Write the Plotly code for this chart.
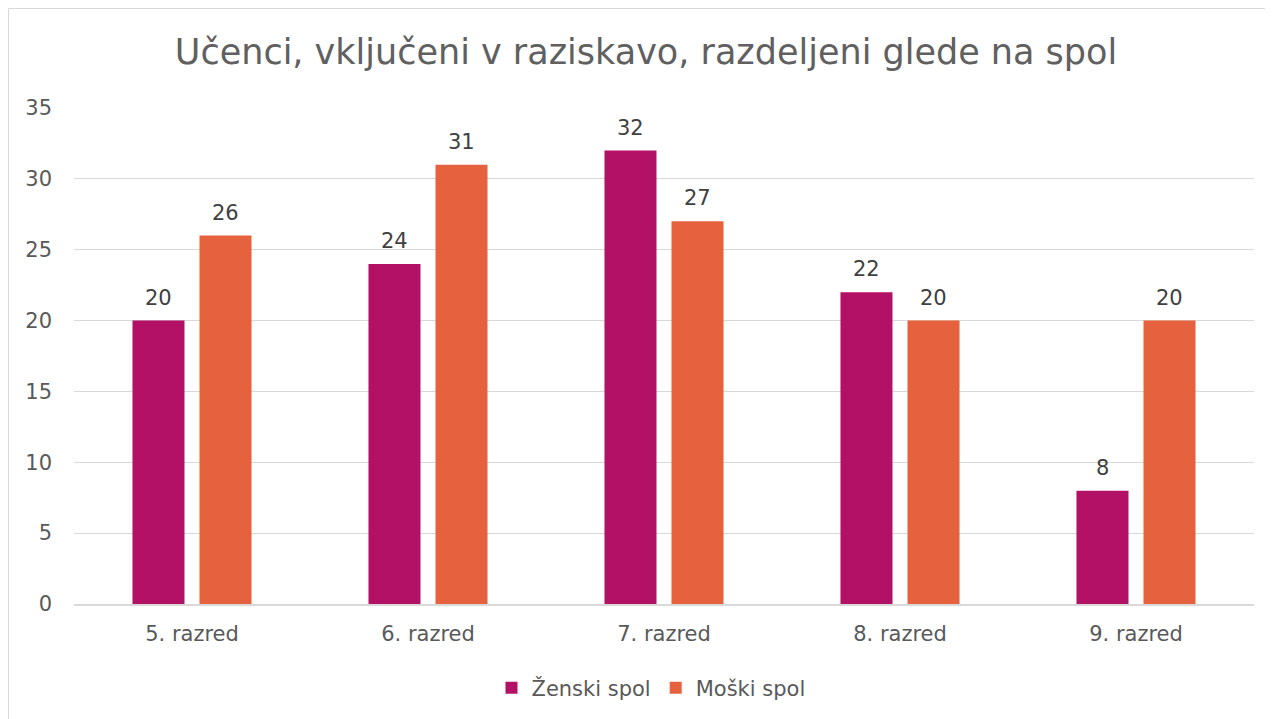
import plotly.graph_objects as go

categories = ["5. razred", "6. razred", "7. razred", "8. razred", "9. razred"]
zenski = [20, 24, 32, 22, 8]
moski = [26, 31, 27, 20, 20]
series_names = ["Ženski spol", "Moški spol"]
colors = ["#B31166", "#E6613E"]
y_ticks = [0, 5, 10, 15, 20, 25, 30, 35]

FONT = "DejaVu Sans"
GRAY = "#595959"

W, H = 1273, 719
OFF = 8  # page body offset
L, R, T, B = 74 - OFF, 1273 - 1254 + OFF, 108 - OFF, 719 - 604 + OFF
pw, ph = W - L - R, H - T - B

def px(x):
    return (x - L) / pw

def py(y):
    return (H - B - y) / ph

fig = go.Figure()
bargap, bargroupgap = 0.432, 0.224
slot = (pw / len(categories)) * (1 - bargap) / 2
shifts = [-slot / 2, slot / 2]
annotations = []
for name, vals, col, sh in zip(series_names, [zenski, moski], colors, shifts):
    fig.add_trace(go.Bar(
        x=categories, y=vals, name=name, marker_color=col,
        marker_line_width=0,
    ))
    for c, v in zip(categories, vals):
        annotations.append(dict(
            x=c, y=v, xref="x", yref="y", text=str(v), showarrow=False,
            xshift=sh, yanchor="bottom", yshift=9,
            font=dict(family=FONT, size=21, color="#404040"),
        ))

fig.add_shape(type="rect", xref="paper", yref="paper",
              x0=px(0.5), x1=px(1300), y0=py(740), y1=py(0.5),
              line=dict(color="#D9D9D9", width=1), fillcolor="rgba(0,0,0,0)",
              layer="below")

fig.update_layout(
    width=W, height=H,
    margin=dict(l=L, r=R, t=T, b=B),
    paper_bgcolor="white", plot_bgcolor="white",
    title=dict(text="Učenci, vključeni v raziskavo, razdeljeni glede na spol",
               x=(646 - OFF) / W, xref="container", xanchor="center",
               y=1 - (52 - OFF) / H, yanchor="middle",
               font=dict(family=FONT, size=35, color="#606060")),
    barmode="group", bargap=bargap, bargroupgap=bargroupgap,
    showlegend=True,
    legend=dict(orientation="h", x=px(651 - OFF), xanchor="center",
                y=py(688 - OFF), yanchor="middle",
                font=dict(family=FONT, size=21, color=GRAY),
                itemwidth=30, traceorder="normal"),
    annotations=annotations,
    font=dict(family=FONT, color=GRAY),
)
fig.update_yaxes(range=[0, 35], tickvals=y_ticks, showgrid=True,
                 gridcolor="#D9D9D9", gridwidth=1, zeroline=False,
                 showline=False, ticks="",
                 tickfont=dict(family=FONT, size=21, color=GRAY),
                 ticklabelstandoff=21)
fig.update_xaxes(showline=True, linecolor="#D9D9D9", linewidth=1.5,
                 ticks="", tickfont=dict(family=FONT, size=21, color=GRAY),
                 ticklabelstandoff=10)

fig.write_html("out.html")
